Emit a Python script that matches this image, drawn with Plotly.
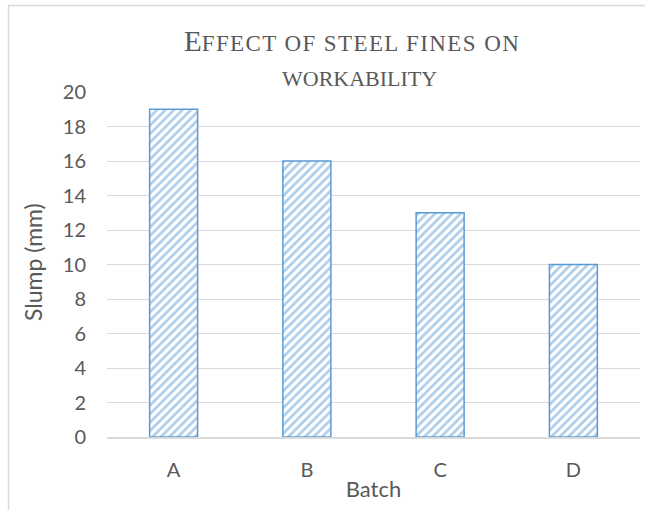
import plotly.graph_objects as go

batches = ["A", "B", "C", "D"]
slump = [19, 16, 13, 10]
y_ticks = [0, 2, 4, 6, 8, 10, 12, 14, 16, 18, 20]

W, H = 645, 510
L, R, T, B = 107, 5, 92, 73
pw, ph = W - L - R, H - T - B

def px_x(p):
    return (p - L) / pw

def px_y(p):
    return (H - B - p) / ph

fig = go.Figure()
fig.add_trace(go.Bar(
    x=batches, y=slump,
    marker=dict(
        color="white",
        line=dict(color="#5b9bd5", width=1.5),
        pattern=dict(shape="/", fgcolor="#5b9bd5", bgcolor="white", size=6, solidity=0.45),
    ),
))

grey = "#595959"
fig.update_layout(
    width=W, height=H,
    margin=dict(l=L, r=R, t=T, b=B),
    paper_bgcolor="white", plot_bgcolor="white",
    showlegend=False,
    bargap=0.64,
    font=dict(family="Lato, Open Sans, sans-serif", color=grey, size=20),
    xaxis=dict(
        title=dict(text="Batch", font=dict(size=22, color=grey), standoff=2),
        showgrid=False, showline=True, linecolor="#d9d9d9", linewidth=1.5,
        ticks="", tickfont=dict(size=20, color=grey), ticklabelstandoff=14,
    ),
    yaxis=dict(
        range=[0, 20], tickvals=y_ticks, showgrid=True, gridcolor="#d9d9d9", gridwidth=1,
        zeroline=False, showline=False, ticks="", tickfont=dict(size=20, color=grey),
        ticklabelstandoff=20,
    ),
)

fig.add_annotation(
    text="Slump (mm)", textangle=-90,
    xref="paper", yref="paper", x=px_x(33), y=px_y(262),
    xanchor="center", yanchor="middle", showarrow=False,
    font=dict(family="Lato, Open Sans, sans-serif", size=23, color=grey),
)

serif = "Liberation Serif, Times New Roman, serif"
fig.add_annotation(
    text="<span style='font-size:29px'>E</span><span style='letter-spacing:1.4px'>FFECT OF STEEL FINES ON</span>",
    xref="paper", yref="paper", x=px_x(352), y=px_y(41),
    xanchor="center", yanchor="middle", showarrow=False,
    font=dict(family=serif, size=23, color=grey),
)
fig.add_annotation(
    text="WORKABILITY",
    xref="paper", yref="paper", x=px_x(359), y=px_y(78),
    xanchor="center", yanchor="middle", showarrow=False,
    font=dict(family=serif, size=22, color=grey),
)

fig.add_shape(
    type="rect", xref="paper", yref="paper",
    x0=px_x(8.5), x1=px_x(700), y0=px_y(560), y1=px_y(5.5),
    line=dict(color="#d9d9d9", width=1.5), fillcolor="rgba(0,0,0,0)", layer="below",
)

fig.write_html("out.html", config={"displayModeBar": False},
               post_script="document.body.style.margin='0px';document.body.style.overflow='hidden';")
